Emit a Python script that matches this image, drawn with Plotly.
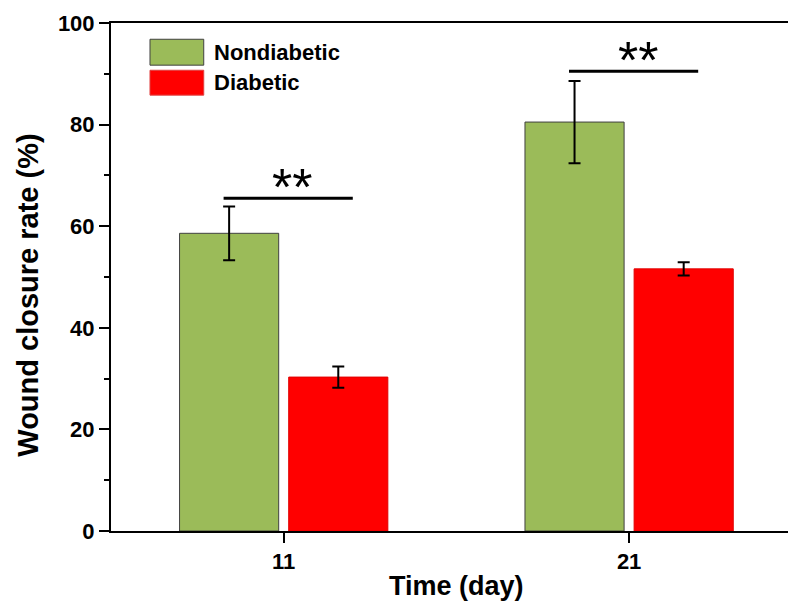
import plotly.graph_objects as go

# Wound closure rate (%) by day, mean ± SD
days = ["11", "21"]
nondiabetic = [58.6, 80.5]
nondiabetic_err = [5.3, 8.1]
diabetic = [30.3, 51.6]
diabetic_err = [2.1, 1.3]

# significance brackets: height (%) and label per day
sig_height = [65.5, 90.5]
sig_label = ["**", "**"]

GREEN = "#9BBB59"
RED = "#FF0000"
FONT = "Liberation Sans, Arial, sans-serif"

xpos = list(range(len(days)))
bar_w = 0.287
gap = 0.029

fig = go.Figure()
fig.add_trace(go.Bar(
    x=xpos, y=nondiabetic, name="Nondiabetic",
    width=bar_w, offset=-bar_w - gap / 2,
    marker=dict(color=GREEN, line=dict(color="#404040", width=1)),
    error_y=dict(type="data", array=nondiabetic_err, color="black",
                 thickness=2, width=6),
))
fig.add_trace(go.Bar(
    x=xpos, y=diabetic, name="Diabetic",
    width=bar_w, offset=gap / 2,
    marker=dict(color=RED, line=dict(color="#E00000", width=1)),
    error_y=dict(type="data", array=diabetic_err, color="black",
                 thickness=2, width=6),
))

shapes = []
annotations = []

# significance bars with asterisks
for i, (h, lab) in enumerate(zip(sig_height, sig_label)):
    shapes.append(dict(type="line", xref="x", yref="y",
                       x0=i - 0.174, x1=i + 0.2, y0=h, y1=h,
                       line=dict(color="black", width=3)))
    annotations.append(dict(x=i + 0.025, y=h, xref="x", yref="y",
                            text=lab, showarrow=False,
                            xanchor="center", yanchor="bottom", yshift=-20,
                            font=dict(family=FONT, size=52, color="black")))

# legend boxes and labels
legend_items = [("Nondiabetic", GREEN, "#404040", 0.968, 0.917),
                ("Diabetic", RED, "#E04040", 0.907, 0.858)]
for name, fill, edge, y1, y0 in legend_items:
    shapes.append(dict(type="rect", xref="paper", yref="paper",
                       x0=0.0576, x1=0.137, y0=y0, y1=y1,
                       fillcolor=fill, line=dict(color=edge, width=1)))
    annotations.append(dict(x=0.149, y=(y0 + y1) / 2, xref="paper", yref="paper",
                            text=f"<b>{name}</b>", showarrow=False,
                            xanchor="left", yanchor="middle",
                            font=dict(family=FONT, size=22, color="black")))

# axis titles
annotations.append(dict(x=0.5, y=-0.108, xref="x", yref="paper",
                        text="<b>Time (day)</b>", showarrow=False,
                        xanchor="center", yanchor="middle",
                        font=dict(family=FONT, size=27, color="black")))
annotations.append(dict(x=-0.123, y=0.4646, xref="paper", yref="paper",
                        text="<b>Wound closure rate (%)</b>", showarrow=False,
                        textangle=-90, xanchor="center", yanchor="middle",
                        font=dict(family=FONT, size=29, color="black")))

fig.update_layout(
    width=788, height=606,
    margin=dict(l=111, r=0, t=23, b=75),
    plot_bgcolor="white", paper_bgcolor="white",
    showlegend=False,
    shapes=shapes, annotations=annotations,
    font=dict(family=FONT, color="black"),
)
fig.update_xaxes(
    range=[-0.5, 1.46], tickmode="array", tickvals=xpos,
    ticktext=[f"<b>{d}</b>" for d in days],
    showline=True, linecolor="black", linewidth=2, mirror=True,
    ticks="outside", ticklen=10, tickwidth=2, tickcolor="black",
    showgrid=False, zeroline=False,
    tickfont=dict(family=FONT, size=22, color="black"),
)
fig.update_yaxes(
    range=[0, 100],
    tickvals=[0, 20, 40, 60, 80, 100],
    ticktext=["<b>0</b>", "<b>20</b>", "<b>40</b>", "<b>60</b>", "<b>80</b>", "<b>100</b>"],
    showline=True, linecolor="black", linewidth=2, mirror=False,
    ticks="outside", ticklen=10, tickwidth=2, tickcolor="black",
    minor=dict(ticks="outside", ticklen=5, tickwidth=2, tickcolor="black",
               tickvals=[10, 30, 50, 70, 90]),
    showgrid=False, zeroline=False,
    tickfont=dict(family=FONT, size=22, color="black"),
)

fig.write_html("out.html")
